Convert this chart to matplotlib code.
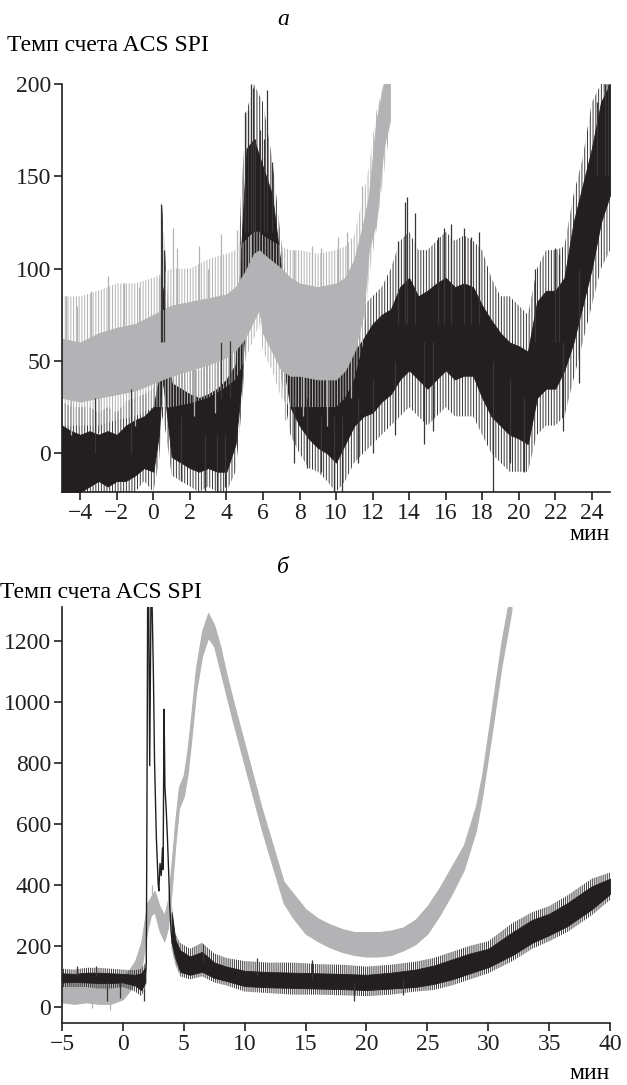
import numpy as np
import matplotlib
matplotlib.use("Agg")
import matplotlib.pyplot as plt

plt.rcParams["font.family"] = ["Liberation Serif", "DejaVu Serif"]
plt.rcParams["font.size"] = 17
plt.rcParams["hatch.linewidth"] = 0.7

BLACK = "#231f20"
GRAY = "#b3b3b5"

# ---- panel a: noisy count rate, read as envelopes (minutes, counts) ----
# outer = sparse noise fringe, core = dense part of the band
a_black_x = [-5.0, -4.5, -4.0, -3.5, -3.0, -2.5, -2.0, -1.5, -1.0, -0.5, 0.0, 0.3, 0.5, 0.7,
             1.0, 1.5, 2.0, 2.5, 3.0, 3.5, 4.0, 4.5, 4.8, 5.1, 5.5, 6.0, 6.5, 7.0, 7.5, 8.0,
             8.5, 9.0, 9.5, 10.0, 10.5, 11.0, 11.5, 12.0, 12.5, 13.0, 13.5, 14.0, 14.5,
             15.0, 15.5, 16.0, 16.5, 17.0, 17.5, 18.0, 18.5, 19.0, 19.5, 20.0, 20.5, 21.0,
             21.5, 22.0, 22.5, 23.0, 23.5, 24.0, 24.5, 25.0]
a_black_out_lo = [-21, -21, -21, -21, -21, -21, -21, -21, -21, -15, -21, -5, 20, 10,
                  -12, -15, -18, -21, -18, -21, -21, -10, 20, 60, 80, 85, 75, 40, 10, 0,
                  -8, -10, -15, -21, -15, -5, 0, 5, 10, 15, 20, 25, 20,
                  15, 20, 25, 20, 20, 20, 10, 0, -5, -10, -10, -10, 10,
                  15, 15, 20, 40, 60, 80, 100, 110]
a_black_lo = [-21, -21, -21, -18, -15, -18, -15, -15, -12, -8, -10, 10, 40, 25,
              -2, -5, -8, -10, -8, -10, -10, 5, 35, 85, 100, 100, 90, 55, 25, 15,
              8, 3, 0, -5, 5, 15, 20, 22, 28, 32, 40, 45, 40,
              35, 40, 45, 40, 42, 42, 30, 20, 15, 10, 8, 5, 30,
              35, 35, 45, 60, 80, 100, 125, 140]
a_black_hi = [15, 12, 10, 12, 10, 12, 10, 15, 18, 20, 25, 40, 90, 75,
              38, 35, 32, 30, 32, 35, 40, 48, 110, 165, 170, 155, 140, 100, 60, 50,
              45, 42, 42, 42, 50, 55, 62, 70, 75, 78, 90, 95, 85,
              88, 92, 95, 90, 92, 90, 80, 72, 65, 60, 58, 55, 82,
              88, 88, 95, 125, 145, 165, 190, 200]
a_black_out_hi = [28, 25, 25, 25, 22, 25, 22, 28, 30, 32, 35, 60, 135, 100,
                  50, 48, 45, 45, 48, 50, 55, 60, 140, 185, 200, 190, 160, 115, 75, 65,
                  60, 58, 58, 60, 65, 72, 80, 85, 90, 100, 115, 120, 110,
                  110, 115, 120, 115, 118, 115, 110, 95, 85, 85, 80, 75, 100,
                  110, 110, 112, 140, 160, 190, 200, 200]

a_gray_x = [-5.0, -4.0, -3.0, -2.0, -1.0, 0.0, 1.0, 2.0, 3.0, 4.0, 4.5, 5.0, 5.5, 5.8,
            6.0, 6.5, 7.0, 7.5, 8.0, 9.0, 10.0, 10.5, 11.0, 11.5, 11.8, 12.2, 12.6, 12.95]
a_gray_out_lo = [15, 15, 15, 18, 20, 25, 25, 27, 30, 36, 40, 50, 62, 70,
                 55, 45, 30, 25, 25, 25, 25, 30, 40, 60, 95, 120, 150, 175]
a_gray_lo = [30, 28, 30, 32, 34, 38, 42, 45, 48, 52, 56, 62, 72, 78,
             65, 55, 45, 42, 42, 40, 40, 45, 55, 75, 110, 125, 165, 180]
a_gray_hi = [62, 60, 65, 68, 70, 75, 80, 82, 84, 86, 90, 98, 108, 110,
             108, 104, 100, 95, 92, 90, 92, 95, 105, 125, 140, 180, 200, 200]
a_gray_out_hi = [85, 85, 88, 92, 92, 95, 100, 100, 105, 108, 110, 115, 120, 120,
                 118, 115, 112, 110, 110, 108, 110, 112, 118, 140, 155, 185, 200, 200]

# single spikes (x, from, to)
a_black_spk_x = [0.42, 0.5, 0.58, 3.7, 4.2, 5.0, 5.2, 5.35, 5.45, 5.55, 5.85, 6.05, 6.2, 6.5,
                 13.4, 13.8, 13.9, 14.3, 15.6, 15.9, 16.3, 17.0, 17.4, 17.8, 20.9, 22.0,
                 22.2, 24.3, 24.7, 24.9,
                 1.5, 2.8, 3.5, 3.9, 7.7, 8.4, 9.2, 9.9, 10.3, 11.2, 12.0, 13.2, 14.8,
                 15.3, 18.6, 19.5, 20.3, 22.4, 23.3, -3.2, -1.2]
a_black_spk_y0 = [60, 60, 60, 30, 30, 120, 120, 120, 120, 120, 120, 120, 120, 120,
                  70, 70, 70, 70, 70, 70, 70, 70, 70, 70, 60, 60,
                  60, 150, 150, 150,
                  20, 10, 10, 10, 30, 30, 20, 20, 20, 30, 40, 50, 60,
                  60, 50, 40, 30, 60, 100, 0, 0]
a_black_spk_y1 = [135, 120, 110, 60, 61, 185, 186, 200, 198, 170, 175, 170, 197, 158,
                  115, 136, 139, 130, 117, 122, 124, 122, 117, 120, 100, 111,
                  108, 190, 200, 200,
                  -15, -21, -21, -18, -5, -8, -10, -21, -21, -5, 0, 10, 5,
                  12, -21, -5, -10, 12, 38, 30, 35]

a_gray_spk_x = [-4.8, -4.2, -3.4, -2.5, -1.6, -0.8, 0.3, 1.1, 1.3, 2.5, 3.0, 3.7, 4.6, 5.3,
                7.7, 8.7, 9.2, 10.1, 10.6, 11.4,
                -4.5, -3.0, -1.0, 0.8, 2.2, 3.4, 7.2, 8.2, 9.5, 10.8]
a_gray_spk_y0 = [50, 50, 50, 50, 50, 50, 60, 60, 60, 60, 60, 60, 70, 80,
                 70, 70, 70, 70, 70, 90,
                 45, 45, 50, 55, 60, 60, 60, 60, 60, 65]
a_gray_spk_y1 = [85, 80, 88, 96, 92, 90, 95, 122, 111, 112, 100, 119, 121, 118,
                 110, 112, 111, 117, 120, 145,
                 10, 12, 15, 25, 20, 22, 18, 20, 15, 30]

# ---- panel b ----
b_black_x = [-5, -4, -3, -2, -1, 0, 1.0, 1.5, 1.85]
b_black_out_lo = [65, 65, 65, 60, 60, 65, 50, 35, 60]
b_black_lo = [80, 82, 80, 78, 78, 80, 70, 55, 80]
b_black_hi = [110, 108, 112, 112, 110, 108, 105, 110, 130]
b_black_out_hi = [125, 122, 128, 128, 125, 122, 120, 125, 145]

b_tail_x = [4.0, 4.3, 4.7, 5.5, 6.5, 7.5, 8.5, 10, 12, 14, 16, 18, 20, 22, 24, 25.5,
            27, 28.5, 30, 32, 33.6, 35, 36.5, 38.5, 40]
b_tail_out_lo = [190, 140, 100, 90, 100, 80, 70, 50, 45, 40, 40, 38, 35, 40, 50, 55,
                 70, 90, 110, 150, 190, 215, 245, 300, 350]
b_tail_lo = [210, 160, 115, 105, 115, 95, 85, 68, 64, 62, 60, 58, 55, 60, 65, 75,
             90, 110, 130, 170, 210, 235, 265, 320, 370]
b_tail_hi = [310, 220, 185, 165, 180, 145, 132, 118, 114, 112, 110, 108, 105, 112, 122,
             135, 155, 175, 190, 245, 285, 305, 340, 395, 420]
b_tail_out_hi = [340, 240, 210, 190, 210, 175, 160, 150, 145, 145, 140, 138, 132, 138,
                 148, 160, 180, 200, 215, 275, 310, 330, 365, 420, 440]

# flare itself, a single trace
b_flare_x = [1.85, 1.92, 1.97, 2.03, 2.12, 2.2, 2.3, 2.4, 2.5, 2.6, 2.75, 2.9, 2.95, 3.05,
             3.15, 3.25, 3.3, 3.38, 3.45, 3.55, 3.65, 3.75, 3.85, 3.95, 4.05]
b_flare_y = [110, 140, 600, 1310, 1310, 790, 1310, 1310, 1100, 800, 550, 400, 380, 470,
             430, 520, 450, 975, 720, 650, 560, 450, 330, 250, 210]

b_gray_x = [-5, -4, -3, -2, -1, 0, 0.5, 1.0, 1.5, 2.0, 2.3, 2.6, 3.0, 3.4, 3.7, 4.0, 4.3,
            4.6, 5.0, 5.3, 5.6, 6.0, 6.5, 7.0, 7.5, 8.0, 8.5, 9.0, 9.6, 10.2, 10.8, 11.4,
            12.0, 12.6, 13.2, 14.0, 14.5, 15, 16, 17, 18, 19, 20, 21, 22, 23, 24, 25, 26,
            27, 28, 29, 29.5, 30.3, 31.1, 31.6, 31.9]
b_gray_lo = [15, 10, 15, 10, 10, 25, 50, 80, 120, 250, 300, 310, 250, 215, 260, 380, 530,
             650, 690, 760, 870, 1030, 1150, 1210, 1180, 1100, 1020, 940, 850, 760, 670,
             580, 500, 420, 340, 290, 265, 240, 215, 195, 180, 170, 165, 165, 170, 185,
             205, 240, 300, 370, 450, 580, 690, 900, 1120, 1230, 1300]
b_gray_hi = [80, 80, 82, 85, 85, 95, 120, 150, 210, 340, 360, 380, 330, 300, 350, 470, 610,
             720, 760, 840, 950, 1110, 1230, 1290, 1250, 1180, 1090, 1010, 920, 830, 740,
             650, 570, 490, 410, 370, 345, 320, 290, 270, 255, 245, 245, 245, 250, 260,
             285, 330, 390, 460, 530, 660, 760, 980, 1200, 1310, 1310]

b_black_spk_x = [-1.3, -0.2, 1.7, -3.8, -2.2, 6.6, 11.0, 15.5, 19.0, 23.0]
b_black_spk_y0 = [80, 80, 60, 100, 100, 150, 100, 90, 80, 90]
b_black_spk_y1 = [20, 30, 20, 135, 135, 205, 160, 155, 20, 40]
b_gray_spk_x = [-2.5, -1.1, 2.4]
b_gray_spk_y0 = [40, 40, 340]
b_gray_spk_y1 = [-5, -10, 400]


def style(ax, xlim, ylim, xticks, yticks):
    ax.set_xlim(*xlim)
    ax.set_ylim(*ylim)
    ax.set_xticks(xticks)
    ax.set_yticks(yticks)
    for s in ["top", "right"]:
        ax.spines[s].set_visible(False)
    for s in ["left", "bottom"]:
        ax.spines[s].set_linewidth(1.2)
        ax.spines[s].set_color(BLACK)
        ax.spines[s].set_zorder(5)
    ax.tick_params(direction="out", length=6, width=1.2, pad=2, colors=BLACK)


def fringe(ax, x, lo, hi, color, hatch="||||||"):
    # sparse noise: a comb of thin vertical strokes instead of a solid fill
    ax.fill_between(x, lo, hi, facecolor="none", edgecolor=color, hatch=hatch, lw=0)


fig = plt.figure(figsize=(6.27, 10.85), dpi=100)

# panel a: black underneath, grey on top
ax1 = fig.add_axes([0.0989, 0.5465, 0.8741, 0.3761])
fringe(ax1, a_black_x, a_black_out_lo, a_black_out_hi, "#3a3637")
ax1.fill_between(a_black_x, a_black_lo, a_black_hi, color=BLACK, lw=0.6)
ax1.vlines(a_black_spk_x, a_black_spk_y0, a_black_spk_y1, color="#3a3637", lw=0.9)
fringe(ax1, a_gray_x, a_gray_out_lo, a_gray_out_hi, GRAY)
ax1.fill_between(a_gray_x, a_gray_lo, a_gray_hi, color=GRAY, lw=0.6)
ax1.vlines(a_gray_spk_x, a_gray_spk_y0, a_gray_spk_y1, color=GRAY, lw=0.9)
style(ax1, (-5, 25), (-21, 200), np.arange(-4, 25, 2), [0, 50, 100, 150, 200])

# panel b: grey underneath, black on top
ax2 = fig.add_axes([0.0989, 0.0571, 0.8741, 0.3835])
ax2.fill_between(b_gray_x, b_gray_lo, b_gray_hi, color=GRAY, lw=0.8)
ax2.vlines(b_gray_spk_x, b_gray_spk_y0, b_gray_spk_y1, color=GRAY, lw=0.9)
fringe(ax2, b_black_x, b_black_out_lo, b_black_out_hi, "#3a3637", "||||||||")
ax2.fill_between(b_black_x, b_black_lo, b_black_hi, color=BLACK, lw=0.6)
fringe(ax2, b_tail_x, b_tail_out_lo, b_tail_out_hi, "#3a3637", "||||||||")
ax2.fill_between(b_tail_x, b_tail_lo, b_tail_hi, color=BLACK, lw=0.6)
ax2.plot(b_flare_x, b_flare_y, color=BLACK, lw=1.0)
ax2.vlines(b_black_spk_x, b_black_spk_y0, b_black_spk_y1, color="#3a3637", lw=0.9)
style(ax2, (-5, 40), (-53, 1310), np.arange(-5, 41, 5), np.arange(0, 1201, 200))

# labels
fig.text(0.451, 0.9816, "а", style="italic", ha="center", va="center")
fig.text(0.011, 0.9585, "Темп счета ACS SPI", ha="left", va="center")
fig.text(0.973, 0.507, "мин", ha="right", va="center")
fig.text(0.451, 0.4765, "б", style="italic", ha="center", va="center")
fig.text(0.0, 0.4535, "Темп счета ACS SPI", ha="left", va="center")
fig.text(0.973, 0.011, "мин", ha="right", va="center")

fig.savefig("out.png", dpi=100)
